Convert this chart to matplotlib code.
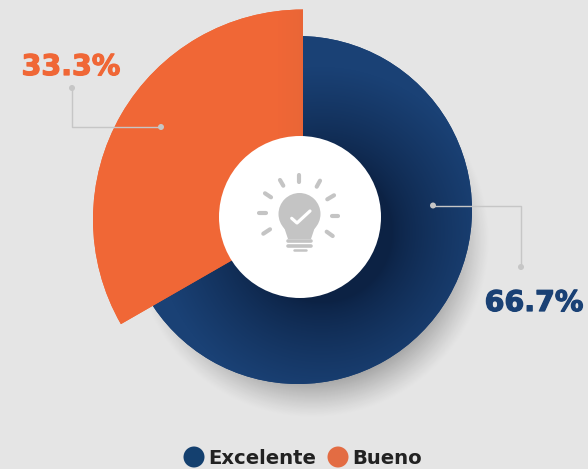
import numpy as np
import matplotlib
matplotlib.use('Agg')
import matplotlib.pyplot as plt
import matplotlib.patheffects as pe
from matplotlib.colors import to_rgb
from matplotlib.patches import Circle

labels = ['Excelente', 'Bueno']
values = [66.7, 33.3]
pct_labels = ['66.7%', '33.3%']

BG = '#E5E5E5'
BLUE = '#1A4175'
BLUE_DARK = '#0C2244'
ORANGE = '#F06736'
LINE = '#C6C6C6'
W, H = 588, 469

plt.rcParams['font.family'] = ['DejaVu Sans']

fig = plt.figure(figsize=(W / 100, H / 100), dpi=100, facecolor=BG)
ax = fig.add_axes([0, 0, 1, 1])


def fy(y):
    # y de la imagen (desde arriba) -> y del eje
    return H - y


xx, yy = np.meshgrid(np.arange(W) + 0.5, np.arange(H) + 0.5)

# sombra del anillo azul
d = np.hypot(xx - 312, yy - 240)
a = np.clip((178 - d) / 40, 0, 1) ** 1.2 * 0.3
shadow = np.zeros((H, W, 4))
shadow[..., 3] = a
ax.imshow(shadow, extent=(0, W, 0, H), origin='upper', zorder=1)

# porción azul
blue_w, _ = ax.pie(values, colors=[BLUE, 'none'], startangle=90, counterclock=False,
                   center=(298, fy(210)), radius=174,
                   wedgeprops={'linewidth': 0, 'zorder': 2})
d = np.hypot(xx - 322, yy - 232)
t = np.clip((d - 70) / 95, 0, 1) ** 0.75
t = t[..., None]
grad = np.array(to_rgb(BLUE_DARK)) * (1 - t) + np.array(to_rgb(BLUE)) * t
im = ax.imshow(grad, extent=(0, W, 0, H), origin='upper', zorder=3)
im.set_clip_path(blue_w[0])

# porción naranja
orange_w, _ = ax.pie(values, colors=['none', ORANGE], startangle=90, counterclock=False,
                     center=(303, fy(219.5)), radius=210,
                     wedgeprops={'linewidth': 0, 'zorder': 4})
t = (np.clip((xx - 278) / 25, 0, 1) * 0.09)[..., None]
grad = np.array(to_rgb(ORANGE)) * (1 - t) + np.array(to_rgb('#A85A3A')) * t
im = ax.imshow(grad, extent=(0, W, 0, H), origin='upper', zorder=5)
im.set_clip_path(orange_w[1])

# círculo central
ax.add_patch(Circle((300, fy(217)), 81, fc='white', ec='none', zorder=6))

# icono de bombilla
ICON = '#C4C4C4'
ax.add_patch(Circle((299.5, fy(214)), 21, fc=ICON, ec='none', zorder=7))
ax.fill([283, 288, 311, 316], [fy(224), fy(239), fy(239), fy(224)], color=ICON, lw=0, zorder=7)
for x0, x1, y0, lw in [(288, 311, 240.5, 2.6), (288, 311, 246, 2.6), (294, 306, 249.5, 1.8)]:
    ax.plot([x0, x1], [fy(y0), fy(y0)], color=ICON, lw=lw, solid_capstyle='round', zorder=7)
rays = [(299.3, 175, 299.3, 181.5), (280, 180, 283.3, 185.7), (316.7, 186.7, 320, 180.7),
        (265, 193.3, 271, 197.3), (327.3, 199.3, 334, 195.3), (259, 213.3, 265.7, 213.3),
        (331.7, 215.7, 338.3, 215.7), (263.3, 233.7, 270, 229.3), (326.7, 231.7, 332.7, 236)]
for x0, y0, x1, y1 in rays:
    ax.plot([x0, x1], [fy(y0), fy(y1)], color=ICON, lw=3.0, solid_capstyle='round', zorder=7)
ax.plot([291.7, 297, 310], [fy(218.3), fy(223), fy(211)], color='white', lw=2.3,
        solid_capstyle='round', solid_joinstyle='round', zorder=8)

# guías
ax.plot([72, 72, 161], [fy(88), fy(127), fy(127)], color=LINE, lw=1.0, zorder=8)
ax.plot([433, 521, 521], [fy(205.5), fy(205.5), fy(267)], color=LINE, lw=1.0, zorder=8)
for x, y in [(72, 88), (161, 127), (433, 205.5), (521, 267)]:
    ax.add_patch(Circle((x, fy(y)), 3, fc=LINE, ec='none', zorder=9))

# porcentajes
t1 = ax.text(71, fy(75), pct_labels[1], color=ORANGE, fontsize=20.5, fontweight='bold',
             ha='center', va='baseline', zorder=10)
t2 = ax.text(534, fy(311), pct_labels[0], color=BLUE, fontsize=20.5, fontweight='bold',
             ha='center', va='baseline', zorder=10)
t1.set_path_effects([pe.withStroke(linewidth=0.9, foreground=ORANGE)])
t2.set_path_effects([pe.withStroke(linewidth=0.9, foreground=BLUE)])

# leyenda
ax.add_patch(Circle((194, fy(457)), 10.5, fc='#14406F', ec='none', zorder=10))
ax.add_patch(Circle((338, fy(457)), 10.5, fc='#E36C43', ec='none', zorder=10))
ax.text(208, fy(463.5), labels[0], color='#222222', fontsize=14.1, fontweight='bold',
        ha='left', va='baseline', zorder=10)
ax.text(352, fy(463.5), labels[1], color='#222222', fontsize=14.1, fontweight='bold',
        ha='left', va='baseline', zorder=10)

ax.set_xlim(0, W)
ax.set_ylim(0, H)
ax.set_aspect('auto')
ax.axis('off')

fig.savefig('out.png', dpi=100, facecolor=BG)
